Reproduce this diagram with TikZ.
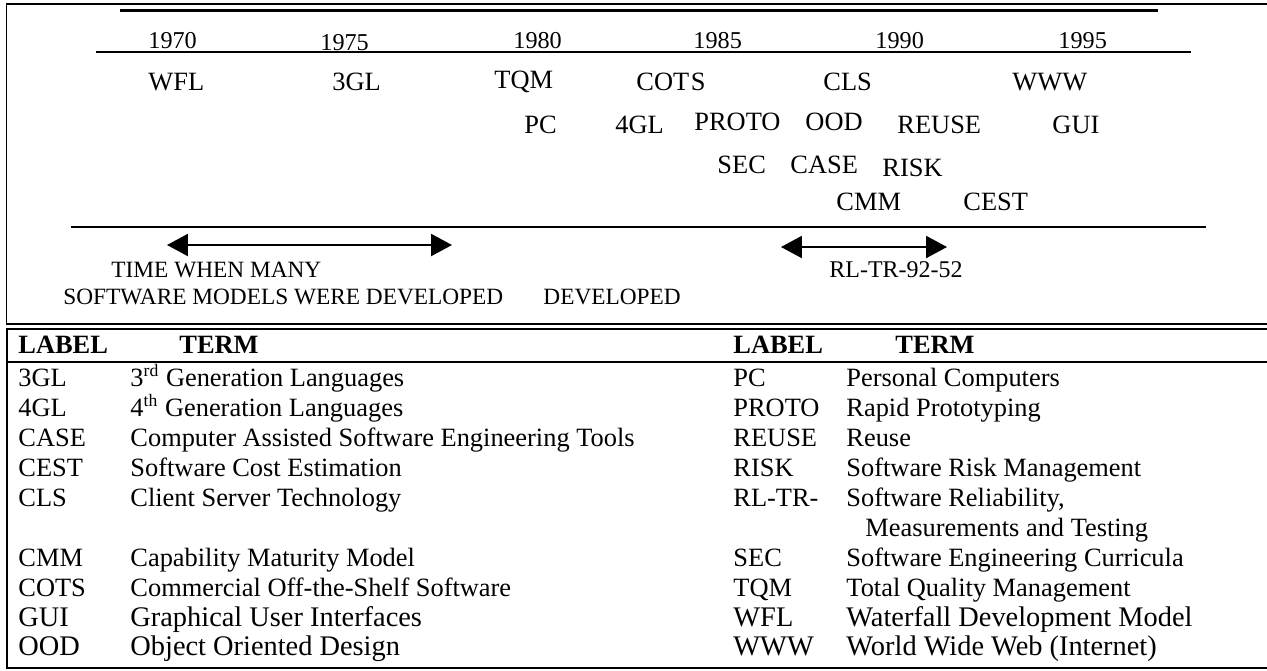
\documentclass[tikz,border=0pt]{standalone}
\usepackage{fontspec}
\setmainfont{Liberation Serif}
\usetikzlibrary{arrows.meta}
\begin{document}
\begin{tikzpicture}[x=0.4545pt,y=-0.4545pt,
  lbl/.style={anchor=base west,inner sep=0pt,font=\fontsize{12}{14}\selectfont},
  yr/.style={anchor=base west,inner sep=0pt,font=\fontsize{11}{13}\selectfont},
  note/.style={anchor=base west,inner sep=0pt,font=\fontsize{10.6}{13}\selectfont},
  hdr/.style={anchor=base west,inner sep=0pt,font=\fontsize{12}{14}\selectfont\bfseries},
  alt/.style={anchor=base west,inner sep=0pt,font=\fontsize{12.9}{15}\selectfont},
  frameline/.style={line width=0.9pt},
  thinline/.style={line width=0.5pt},
  spanarrow/.style={line width=0.9pt,{Triangle[length=9.5pt,width=10pt]}-{Triangle[length=9.5pt,width=10pt]}}]
\useasboundingbox (0,0) rectangle (1267,670);
% frame of the upper box
\coordinate (tl) at (6.5,4);
\coordinate (tr) at (1267,4);
\coordinate (bl) at (6.5,324);
\coordinate (br) at (1267,324);
\draw[frameline] (tr) -- (tl) -- (bl) -- (br);
% table frame
\coordinate (ttl) at (7,329);
\coordinate (ttr) at (1267,329);
\coordinate (tbl) at (7,668);
\coordinate (tbr) at (1267,668);
\coordinate (thl) at (7,362);
\coordinate (thr) at (1267,362);
\draw[frameline] (ttr) -- (ttl) -- (tbl) -- (tbr);
\draw[frameline] (thl) -- (thr);
% timeline lines
\coordinate (a1) at (120,10.7);
\coordinate (a2) at (1158,10.7);
\draw[line width=1.1pt] (a1) -- (a2);
\coordinate (y1) at (96,52);
\coordinate (y2) at (1191,52);
\draw[thinline] (y1) -- (y2);
\coordinate (b1) at (71,227);
\coordinate (b2) at (1206,227);
\draw[frameline] (b1) -- (b2);
% years
\node[yr] (y1970) at (148,48) {1970};
\node[yr] (y1975) at (320,50) {1975};
\node[yr] (y1980) at (513,48) {1980};
\node[yr] (y1985) at (693,48) {1985};
\node[yr] (y1990) at (875,48) {1990};
\node[yr] (y1995) at (1058,48) {1995};
% events
\node[lbl] (wfl) at (148,90) {WFL};
\node[lbl] (tgl) at (332,90) {3GL};
\node[lbl] (tqm) at (494,88) {TQM};
\node[lbl] (cots) at (636,90) {COT\kern0.7pt S};
\node[lbl] (cls) at (823,90) {CLS};
\node[lbl] (www) at (1012,90) {WWW};
\node[lbl] (pc) at (524,133) {PC};
\node[lbl] (fgl) at (615,133) {4GL};
\node[lbl] (proto) at (694,130) {PROTO};
\node[lbl] (ood) at (805,130) {OOD};
\node[lbl] (reuse) at (897,133) {REUSE};
\node[lbl] (gui) at (1052,133) {GUI};
\node[lbl] (sec) at (717,173) {SEC};
\node[lbl] (case) at (790,173) {CASE};
\node[lbl] (risk) at (882,176) {RISK};
\node[lbl] (cmm) at (836,210) {CMM};
\node[lbl] (cest) at (963,210) {CEST};
% spans
\coordinate (s1a) at (167,245);
\coordinate (s1b) at (452,245);
\draw[spanarrow] (s1a) -- (s1b);
\coordinate (s2a) at (781,247);
\coordinate (s2b) at (947,247);
\draw[spanarrow] (s2a) -- (s2b);
\node[note] (time1) at (111,277) {TIME WHEN MANY};
\node[note] (time2) at (63,304) {SOFTWARE MODELS WERE DEVELOPED};
\node[note] (time3) at (543,304) {DEVELOPED};
\node[note,font=\fontsize{10.9}{13}\selectfont] (rltr) at (829,277) {RL-TR-92-52};
% table header
\node[hdr] (h1) at (18,353) {LABEL};
\node[hdr] (h2) at (179,353) {TERM};
\node[hdr] (h3) at (733,353) {LABEL};
\node[hdr] (h4) at (895,353) {TERM};
% left column
\node[lbl] (l1) at (18,386) {3GL};
\node[lbl] (t1) at (130,386) {3\textsuperscript{rd} Generation Languages};
\node[lbl] (l2) at (18,416) {4GL};
\node[lbl] (t2) at (130,416) {4\textsuperscript{th} Generation Languages};
\node[lbl] (l3) at (18,446) {CASE};
\node[lbl] (t3) at (130,446) {Computer Assisted Software Engineering Tools};
\node[lbl] (l4) at (18,476) {CEST};
\node[lbl] (t4) at (130,476) {Software Cost Estimation};
\node[lbl] (l5) at (18,506) {CLS};
\node[lbl] (t5) at (130,506) {Client Server Technology};
\node[lbl] (l7) at (18,566) {CMM};
\node[lbl] (t7) at (130,566) {Capability Maturity Model};
\node[lbl] (l8) at (18,596) {COTS};
\node[lbl] (t8) at (130,596) {Commercial Off-the-Shelf Software};
\node[alt] (l9) at (18,626) {GUI};
\node[alt] (t9) at (130,626) {Graphical User Interfaces};
\node[alt] (l10) at (18,655) {OOD};
\node[alt] (t10) at (130,655) {Object Oriented Design};
% right column
\node[lbl] (r1) at (733,386) {PC};
\node[lbl] (u1) at (846,386) {Personal Computers};
\node[lbl] (r2) at (733,416) {PROTO};
\node[lbl] (u2) at (846,416) {Rapid Prototyping};
\node[lbl] (r3) at (733,446) {REUSE};
\node[lbl] (u3) at (846,446) {Reuse};
\node[lbl] (r4) at (733,476) {RISK};
\node[lbl] (u4) at (846,476) {Software Risk Management};
\node[lbl] (r5) at (733,506) {RL-TR-};
\node[lbl] (u5) at (846,506) {Software Reliability,};
\node[lbl] (u6) at (865,536) {Measurements and Testing};
\node[lbl] (r7) at (733,566) {SEC};
\node[lbl] (u7) at (846,566) {Software Engineering Curricula};
\node[lbl] (r8) at (733,596) {TQM};
\node[lbl] (u8) at (846,596) {Total Quality Management};
\node[alt] (r9) at (733,626) {WFL};
\node[alt] (u9) at (846,626) {Waterfall Development Model};
\node[alt] (r10) at (733,655) {WWW};
\node[alt] (u10) at (846,655) {World Wide Web (Internet)};
\end{tikzpicture}
\end{document}
